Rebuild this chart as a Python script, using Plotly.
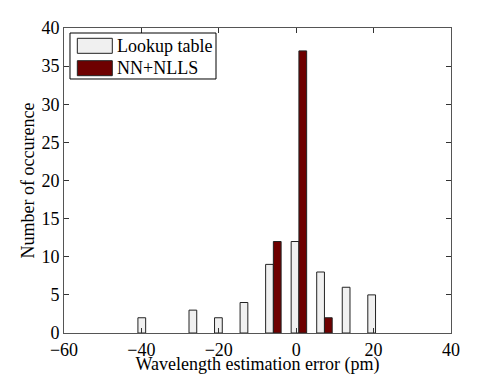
import plotly.graph_objects as go

# bin centres of the histogram (pm)
lookup_x = [-38.9, -25.7, -19.1, -12.5, -5.9, 0.7, 7.3, 13.9, 20.5]
lookup_counts = [2, 3, 2, 4, 9, 12, 8, 6, 5]
nn_x = [-5.9, 0.7, 7.3]
nn_counts = [12, 37, 2]
names = ['Lookup table', 'NN+NLLS']
colors = ['#f0f0f0', '#6e0000']

fig = go.Figure()
fig.add_trace(go.Bar(x=lookup_x, y=lookup_counts, name=names[0], showlegend=False,
                     marker=dict(color=colors[0], line=dict(color='#222', width=1))))
fig.add_trace(go.Bar(x=nn_x, y=nn_counts, name=names[1], showlegend=False,
                     marker=dict(color=colors[1], line=dict(color='#222', width=1))))

font = dict(family='Liberation Serif', size=18, color='black')
axis = dict(showline=True, linecolor='#555', linewidth=1, mirror='ticks',
            ticks='inside', ticklen=5, tickcolor='#333', showgrid=False,
            zeroline=False, tickfont=font, automargin=False)

# matlab-style legend box with wide swatches
fig.add_shape(type='rect', xref='paper', yref='paper', x0=0.0155, x1=0.3928,
              y0=0.8328, y1=0.9836, line=dict(color='black', width=1), fillcolor='white')
for i, (nm, c) in enumerate(zip(names, colors)):
    y0 = 0.917 - i * 0.0734
    fig.add_shape(type='rect', xref='paper', yref='paper', x0=0.0344, x1=0.1248,
                  y0=y0, y1=y0 + 0.0492, line=dict(color='#222', width=1), fillcolor=c)
    fig.add_annotation(text=nm, xref='paper', yref='paper', x=0.1318, y=y0 + 0.0246,
                       xanchor='left', yanchor='middle', showarrow=False,
                       font=dict(family='Liberation Serif', size=18, color='black'))

# page body adds an 8px margin, so the figure is shrunk to fit the window
fig.update_layout(
    width=490, height=367,
    margin=dict(l=56, r=47, t=20, b=42),
    plot_bgcolor='white', paper_bgcolor='white',
    barmode='group', bargap=0.394, bargroupgap=0,
    font=font,
    xaxis=dict(axis, range=[-60, 40], dtick=20,
               title=dict(text='Wavelength estimation error (pm)', font=font, standoff=0)),
    yaxis=dict(axis, range=[0, 40], dtick=5,
               title=dict(text='Number of occurence', font=font, standoff=2)),
)

fig.write_html('out.html')
